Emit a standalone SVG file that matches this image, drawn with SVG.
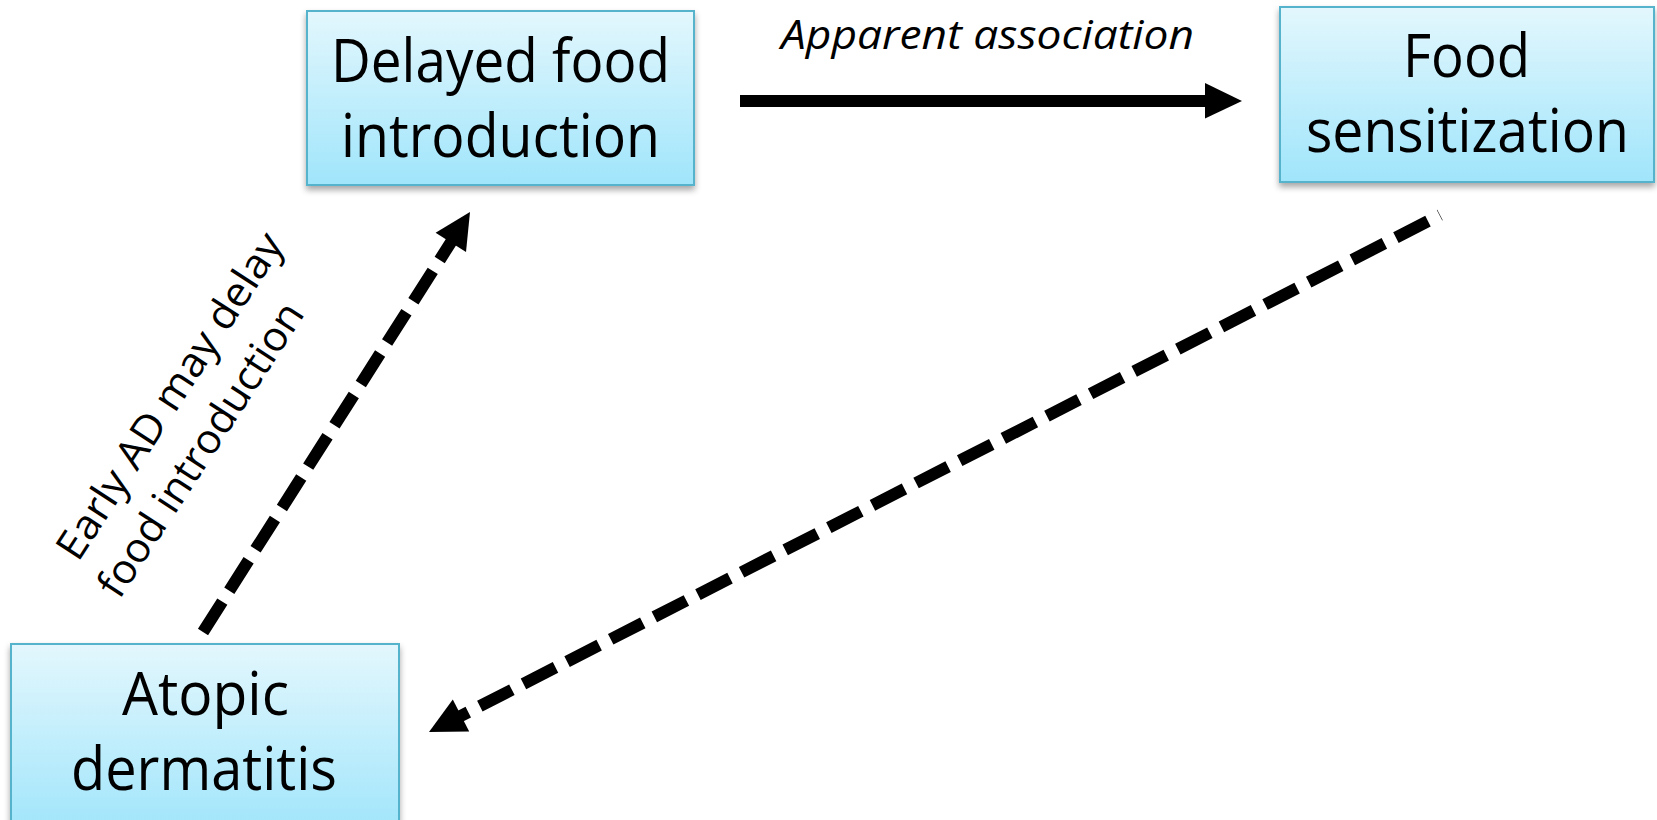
<svg xmlns="http://www.w3.org/2000/svg" width="1657" height="820" viewBox="0 0 1657 820">
<defs>
<linearGradient id="boxfill" x1="0" y1="0" x2="0" y2="1">
<stop offset="0" stop-color="#e3f7fd"/>
<stop offset="1" stop-color="#a0e5fb"/>
</linearGradient>
<filter id="shadow" x="-10%" y="-10%" width="120%" height="130%">
<feDropShadow dx="0" dy="4" stdDeviation="3" flood-color="#000" flood-opacity="0.35"/>
</filter>
<style>
.box{fill:url(#boxfill);stroke:#57b3cc;stroke-width:2;filter:url(#shadow)}
.lbl{font-family:"Open Sans","Noto Sans","Liberation Sans",sans-serif;font-size:60px;fill:#000;text-anchor:middle}
.note{font-family:"Open Sans","Noto Sans","Liberation Sans",sans-serif;font-size:41px;fill:#000}
.solid{stroke:#000;stroke-width:12;fill:none}
.dash{stroke:#000;stroke-width:12;fill:none;stroke-dasharray:36 13}
.head{fill:#000}
</style>
</defs>
<g id="node-delayed">
<rect class="box" x="307" y="11" width="387" height="174"/>
<text class="lbl" x="500.5" y="82" textLength="339" lengthAdjust="spacingAndGlyphs">Delayed food</text>
<text class="lbl" x="500.5" y="157" textLength="319" lengthAdjust="spacingAndGlyphs">introduction</text>
</g>
<g id="node-sensitization">
<rect class="box" x="1280" y="7" width="374" height="175"/>
<text class="lbl" x="1466.5" y="77" textLength="127" lengthAdjust="spacingAndGlyphs">Food</text>
<text class="lbl" x="1467.5" y="152" textLength="323" lengthAdjust="spacingAndGlyphs">sensitization</text>
</g>
<g id="node-atopic">
<rect class="box" x="11" y="644" width="388" height="190"/>
<text class="lbl" x="205.5" y="715" textLength="167" lengthAdjust="spacingAndGlyphs">Atopic</text>
<text class="lbl" x="204" y="790" textLength="266" lengthAdjust="spacingAndGlyphs">dermatitis</text>
</g>
<g id="connectors">
<path class="solid" d="M740 101 H1206"/>
<polygon class="head" points="1205,83 1242,101 1205,118.5"/>
<text class="note" x="987.5" y="49" text-anchor="middle" font-style="italic" textLength="413" lengthAdjust="spacingAndGlyphs">Apparent association</text>

<path class="dash" d="M203 632 L460 228"/>
<polygon class="head" points="470,212 435.6,232.8 466,252"/>
<g transform="translate(78,563) rotate(-57)">
<text class="note" x="0" y="0" textLength="380" lengthAdjust="spacingAndGlyphs">Early AD may delay</text>
<text class="note" x="-9" y="55" textLength="342" lengthAdjust="spacingAndGlyphs">food introduction</text>
</g>

<path class="dash" style="stroke-dashoffset:35.5" d="M1440 215 L445 724"/>
<polygon class="head" points="429,732 452.8,699.6 469.2,731.6"/>
</g>
</svg>
